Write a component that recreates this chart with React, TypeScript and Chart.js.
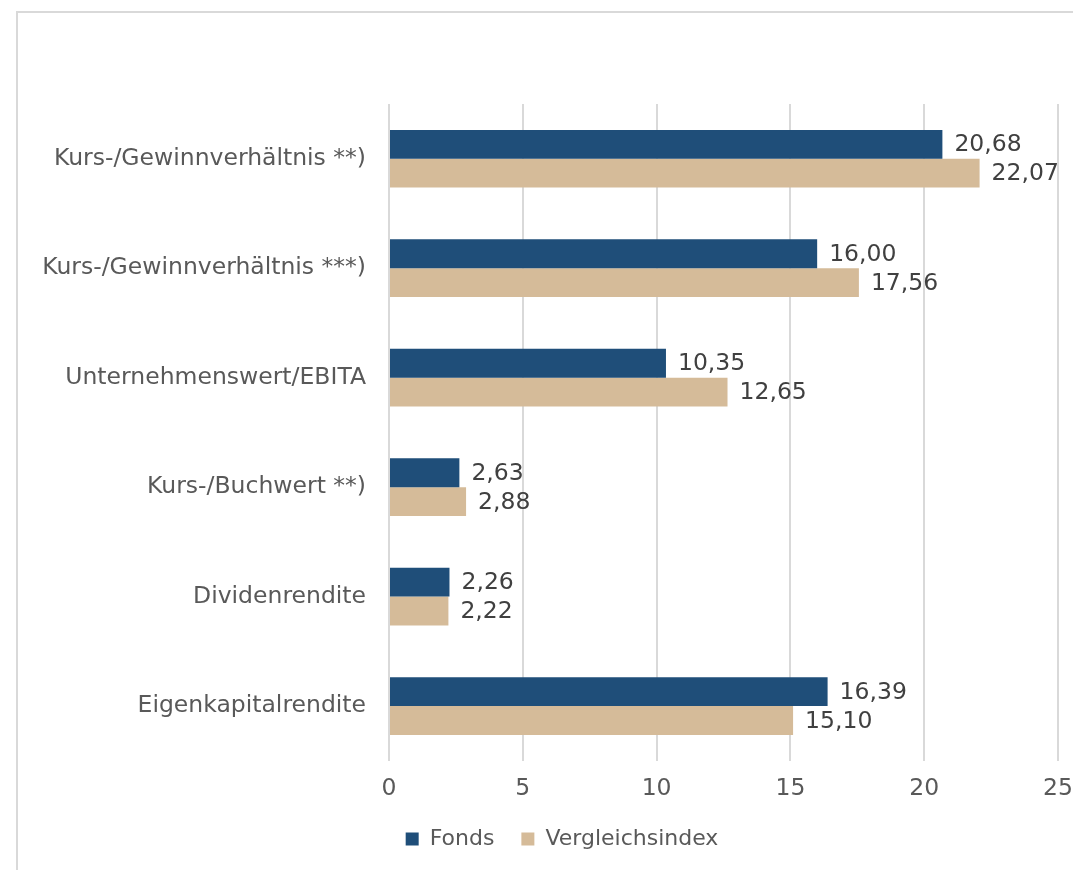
import React, { useEffect, useRef } from "react";
import { Chart, registerables } from "chart.js";

Chart.register(...registerables);

const categories = [
  "Kurs-/Gewinnverhältnis **)",
  "Kurs-/Gewinnverhältnis ***)",
  "Unternehmenswert/EBITA",
  "Kurs-/Buchwert **)",
  "Dividenrendite",
  "Eigenkapitalrendite",
];
const fondsValues = [20.68, 16.0, 10.35, 2.63, 2.26, 16.39];
const indexValues = [22.07, 17.56, 12.65, 2.88, 2.22, 15.1];
const seriesNames = ["Fonds", "Vergleichsindex"];
const xTicks = [0, 5, 10, 15, 20, 25];

const FONT = "'DejaVu Sans', Verdana, sans-serif";

const valueLabels = {
  id: "valueLabels",
  afterLayout(chart: any) {
    if (chart.legend) {
      chart.legend.left += 24;
      chart.legend.right += 24;
      chart.legend.top -= 16;
      chart.legend.bottom -= 16;
    }
  },
  afterDatasetsDraw(chart: any) {
    const ctx = chart.ctx;
    ctx.save();
    ctx.font = `23.5px ${FONT}`;
    ctx.fillStyle = "#404040";
    ctx.textAlign = "left";
    ctx.textBaseline = "middle";
    chart.data.datasets.forEach((ds: any, di: number) => {
      const meta = chart.getDatasetMeta(di);
      meta.data.forEach((bar: any, i: number) => {
        const v = ds.data[i] as number;
        const txt = v.toFixed(2).replace(".", ",");
        ctx.fillText(txt, bar.x + 12, bar.y + 1);
      });
    });
    ctx.restore();
  },
};

export default function App() {
  const ref = useRef<HTMLCanvasElement | null>(null);
  useEffect(() => {
    if (!ref.current) return;
    const chart = new Chart(ref.current, {
      type: "bar",
      data: {
        labels: categories,
        datasets: [
          {
            label: seriesNames[0],
            data: fondsValues,
            backgroundColor: "#1F4E79",
            barPercentage: 1,
            categoryPercentage: 0.527,
          },
          {
            label: seriesNames[1],
            data: indexValues,
            backgroundColor: "#D5BB99",
            barPercentage: 1,
            categoryPercentage: 0.527,
          },
        ],
      },
      options: {
        indexAxis: "y",
        animation: false,
        responsive: false,
        maintainAspectRatio: false,
        layout: { padding: { top: 91, right: 48, bottom: 7, left: 0 } },
        plugins: {
          legend: {
            position: "bottom",
            labels: {
              font: { family: FONT, size: 22 },
              color: "#595959",
              boxWidth: 13,
              boxHeight: 13,
              padding: 27,
            },
          },
          tooltip: { enabled: false },
        },
        scales: {
          x: {
            min: 0,
            max: 25,
            afterBuildTicks(scale: any) {
              scale.ticks = xTicks.map((v) => ({ value: v }));
            },
            afterFit(scale: any) {
              scale.paddingRight = 0;
              scale.paddingLeft = 0;
            },
            grid: { color: "#d9d9d9", lineWidth: 2, drawTicks: false },
            border: { display: false },
            ticks: {
              font: { family: FONT, size: 23.5 },
              color: "#595959",
              padding: 14,
              maxRotation: 0,
              autoSkip: false,
            },
          },
          y: {
            afterFit(scale: any) {
              scale.width = 371;
            },
            grid: { display: false, drawTicks: false },
            border: { display: false },
            ticks: {
              font: { family: FONT, size: 23.5 },
              color: "#595959",
              padding: 23,
            },
          },
        },
      },
      plugins: [valueLabels],
    });
    return () => chart.destroy();
  }, []);
  return (
    <div
      style={{
        position: "absolute",
        left: 0,
        top: 0,
        width: 1073,
        height: 870,
        overflow: "hidden",
      }}
    >
      <div
        style={{
          position: "absolute",
          left: 16,
          top: 11,
          width: 1100,
          height: 900,
          border: "2px solid #d9d9d9",
          boxSizing: "border-box",
          background: "#fff",
        }}
      >
        <canvas ref={ref} width={1088} height={870} style={{ display: "block" }} />
      </div>
    </div>
  );
}
